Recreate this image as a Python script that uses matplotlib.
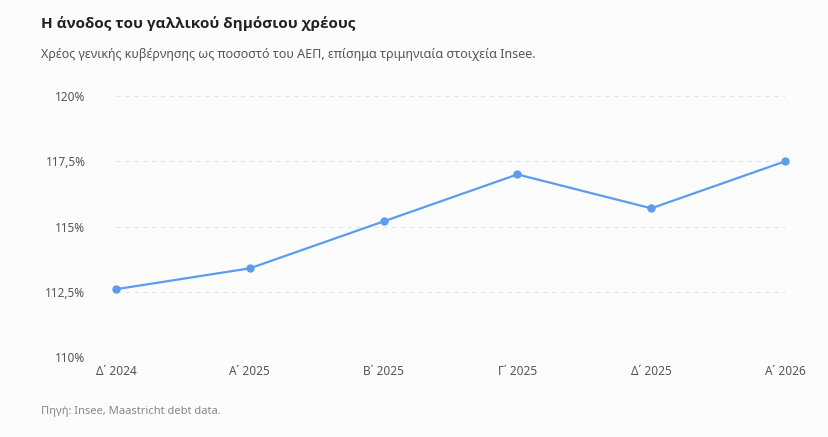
import matplotlib
matplotlib.use("Agg")
import matplotlib.pyplot as plt
from matplotlib.ticker import FuncFormatter

categories = ["Δ΄ 2024", "Α΄ 2025", "Β΄ 2025", "Γ΄ 2025", "Δ΄ 2025", "Α΄ 2026"]
values = [112.6, 113.4, 115.2, 117.0, 115.7, 117.5]
yticks = [110, 112.5, 115, 117.5, 120]

plt.rcParams['font.family'] = ['Noto Sans', 'DejaVu Sans']
fig = plt.figure(figsize=(8.29, 4.37), dpi=100, facecolor='#fcfcfc')
ax = fig.add_axes([0.140, 0.183, 0.807, 0.597], facecolor='#fcfcfc')
x = list(range(len(categories)))
ax.plot(x, values, color='#5b9cf0', lw=1.6, marker='o', ms=5, zorder=3, clip_on=False)
ax.set_ylim(110, 120)
ax.set_xlim(0, len(categories) - 1)
ax.set_yticks(yticks)
ax.yaxis.set_major_formatter(FuncFormatter(lambda v, p: (f"{v:g}".replace('.', ',')) + '%'))
ax.set_xticks(x)
ax.set_xticklabels(categories)
ax.grid(axis='y', color='#e3e3e3', ls=(0, (4, 4)), lw=0.8)
for s in ax.spines.values():
    s.set_visible(False)
ax.tick_params(length=0, labelsize=8.5, colors='#555555')
ax.tick_params(axis='y', pad=22)
ax.tick_params(axis='x', pad=6)
fig.text(0.050, 0.935, "Η άνοδος του γαλλικού δημόσιου χρέους", fontsize=11, fontweight='bold',
         family=['Open Sans', 'DejaVu Sans'], color='#222222')
fig.text(0.050, 0.868, "Χρέος γενικής κυβέρνησης ως ποσοστό του ΑΕΠ, επίσημα τριμηνιαία στοιχεία Insee.", fontsize=9, color='#555555')
fig.text(0.050, 0.053, "Πηγή: Insee, Maastricht debt data.", fontsize=8, color='#888888')
fig.savefig("out.png", dpi=100, facecolor=fig.get_facecolor())
